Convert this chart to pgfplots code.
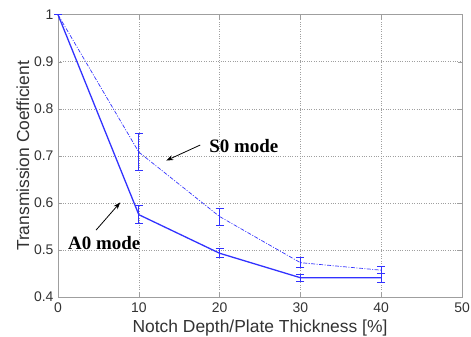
\documentclass[border=0pt]{standalone}
\usepackage{fontspec}
\setmainfont{Liberation Sans}
\newfontfamily\timesfont{Liberation Serif}
\usepackage{pgfplots}
\pgfplotsset{compat=1.18}
\usetikzlibrary{arrows.meta,calc}
\definecolor{mblue}{RGB}{50,50,255}
\begin{document}
\begin{tikzpicture}
\begin{axis}[
  scale only axis,
  width=404bp, height=282.3bp,
  xmin=0, xmax=50, ymin=0.4, ymax=1,
  xtick={0,10,...,50},
  ytick={0.4,0.5,...,1.0},
  yticklabels={0.4,0.5,0.6,0.7,0.8,0.9,1},
  grid=major,
  major grid style={dotted, gray!75, line width=0.6pt},
  axis line style={gray!75, line width=0.9pt},
  tick align=inside,
  major tick length=4bp,
  tick style={gray!75, line width=0.5pt},
  tick label style={font=\fontsize{14}{16}\selectfont, text=black!80},
  /pgf/number format/assume math mode=true,
  xlabel={Notch Depth/Plate Thickness [\%]},
  ylabel={Transmission Coefficient},
  label style={font=\fontsize{17.5}{20}\selectfont, text=black!80},
  xlabel style={yshift=-1bp},
  ylabel style={yshift=-2bp},
  xticklabel style={yshift=-2bp},
  yticklabel style={xshift=-1bp},
  clip=false,
]
% S0 mode (dash-dot)
\addplot[mblue, line width=0.7pt, dash pattern=on 4pt off 1.5pt on 1pt off 1.5pt,
  error bars/.cd, y dir=both, y explicit,
  error bar style={mblue, line width=1pt, solid},
  error mark options={rotate=90, mark size=4bp, mblue, line width=1pt}]
  coordinates {
  (0,1.0) +- (0,0)
  (10,0.708) +- (0,0.04)
  (20,0.571) +- (0,0.018)
  (30,0.473) +- (0,0.01)
  (40,0.457) +- (0,0.008)
  };
% A0 mode (solid)
\addplot[mblue, line width=1.3pt,
  error bars/.cd, y dir=both, y explicit,
  error bar style={mblue, line width=1pt},
  error mark options={rotate=90, mark size=4bp, mblue, line width=1pt}]
  coordinates {
  (0,1.0) +- (0,0)
  (10,0.575) +- (0,0.019)
  (20,0.493) +- (0,0.01)
  (30,0.441) +- (0,0.007)
  (40,0.441) +- (0,0.01)
  };
\draw[-{Stealth[length=7bp,width=5bp]}, line width=0.8pt] (axis cs:17.6,0.723) -- (axis cs:13.4,0.690);
\node[font=\timesfont\bfseries\fontsize{19}{22}\selectfont] at (axis cs:23.0,0.721) {S0 mode};
\draw[-{Stealth[length=7bp,width=5bp]}, line width=0.8pt] (axis cs:4.7,0.542) -- (axis cs:7.7,0.601);
\node[font=\timesfont\bfseries\fontsize{19}{22}\selectfont] at (axis cs:5.72,0.514) {A0 mode};
\end{axis}
\pgfresetboundingbox
\path ($(current axis.south west)+(-58bp,-39bp)$) rectangle ($(current axis.north east)+(9bp,14.7bp)$);
\end{tikzpicture}
\end{document}
